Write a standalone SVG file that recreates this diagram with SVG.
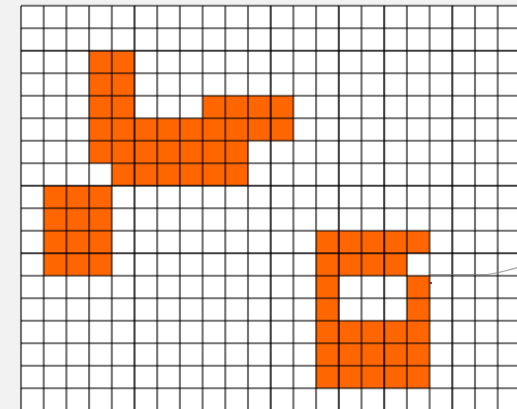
<svg xmlns="http://www.w3.org/2000/svg" width="517" height="409" viewBox="0 0 517 409">
<defs>
<style>
.bg{fill:#f2f2f2}
.paper{fill:#ffffff}
.cell{fill:#ff6600}
.g line{stroke:#000;stroke-opacity:0.55;stroke-width:2.1}
.g line.d{stroke-opacity:0.75}
.faint{fill:none;stroke:#777;stroke-width:1.2;stroke-opacity:0.7}
</style>
</defs>
<rect class="bg" x="0" y="0" width="517" height="409"/>
<rect class="paper" x="21" y="5.7" width="496" height="403.3"/>
<g id="shape-l">
<path class="cell" d="M89.1,50.7 H134.5 V118.2 H202.6 V95.7 H293.4 V140.7 H248 V185.7 H111.8 V163.2 H89.1 Z"/>
</g>
<g id="shape-block">
<rect class="cell" x="43.7" y="185.7" width="68.1" height="90"/>
</g>
<g id="shape-ring">
<path class="cell" fill-rule="evenodd" d="M316.1,230.7 H429.6 V253.2 H406.9 V275.7 H429.6 V388.2 H316.1 Z M338.8,275.7 H406.9 V320.7 H338.8 Z"/>
</g>
<g class="g" id="grid">
<line x1="21" y1="5.7" x2="21" y2="409"/>
<line x1="43.7" y1="5.7" x2="43.7" y2="409"/>
<line x1="66.4" y1="5.7" x2="66.4" y2="409"/>
<line x1="89.1" y1="5.7" x2="89.1" y2="409"/>
<line x1="111.8" y1="5.7" x2="111.8" y2="409"/>
<line class="d" x1="134.5" y1="5.7" x2="134.5" y2="409"/>
<line x1="157.2" y1="5.7" x2="157.2" y2="409"/>
<line x1="179.9" y1="5.7" x2="179.9" y2="409"/>
<line x1="202.6" y1="5.7" x2="202.6" y2="409"/>
<line x1="225.3" y1="5.7" x2="225.3" y2="409"/>
<line x1="248" y1="5.7" x2="248" y2="409"/>
<line class="d" x1="270.7" y1="5.7" x2="270.7" y2="409"/>
<line x1="293.4" y1="5.7" x2="293.4" y2="409"/>
<line x1="316.1" y1="5.7" x2="316.1" y2="409"/>
<line class="d" x1="338.8" y1="5.7" x2="338.8" y2="409"/>
<line x1="361.5" y1="5.7" x2="361.5" y2="409"/>
<line class="d" x1="384.2" y1="5.7" x2="384.2" y2="409"/>
<line x1="406.9" y1="5.7" x2="406.9" y2="409"/>
<line x1="429.6" y1="5.7" x2="429.6" y2="409"/>
<line class="d" x1="452.3" y1="5.7" x2="452.3" y2="409"/>
<line x1="475" y1="5.7" x2="475" y2="409"/>
<line x1="497.7" y1="5.7" x2="497.7" y2="409"/>
<line x1="21" y1="5.7" x2="517" y2="5.7"/>
<line x1="21" y1="28.2" x2="517" y2="28.2"/>
<line class="d" x1="21" y1="50.7" x2="517" y2="50.7"/>
<line x1="21" y1="73.2" x2="517" y2="73.2"/>
<line x1="21" y1="95.7" x2="517" y2="95.7"/>
<line x1="21" y1="118.2" x2="517" y2="118.2"/>
<line x1="21" y1="140.7" x2="517" y2="140.7"/>
<line x1="21" y1="163.2" x2="517" y2="163.2"/>
<line class="d" x1="21" y1="185.7" x2="517" y2="185.7"/>
<line x1="21" y1="208.2" x2="517" y2="208.2"/>
<line x1="21" y1="230.7" x2="517" y2="230.7"/>
<line class="d" x1="21" y1="253.2" x2="517" y2="253.2"/>
<line x1="21" y1="275.7" x2="517" y2="275.7"/>
<line x1="21" y1="298.2" x2="517" y2="298.2"/>
<line x1="21" y1="320.7" x2="517" y2="320.7"/>
<line x1="21" y1="343.2" x2="517" y2="343.2"/>
<line x1="21" y1="365.7" x2="517" y2="365.7"/>
<line x1="21" y1="388.2" x2="517" y2="388.2"/>
</g>
<path class="faint" d="M430,274.5 H487 Q500,273 517,267.5"/>
<circle cx="431" cy="283" r="1" fill="#600"/>
</svg>
